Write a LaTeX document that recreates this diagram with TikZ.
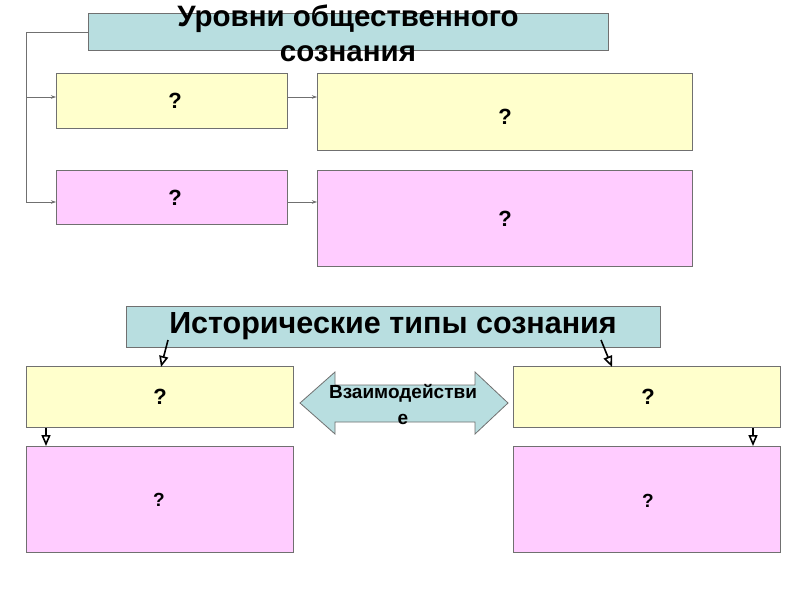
\documentclass[tikz,border=0pt]{standalone}
\usepackage{fontspec}
\setmainfont{Liberation Sans}
\usetikzlibrary{arrows.meta}
\definecolor{bluebox}{HTML}{B8DEE0}
\definecolor{yelbox}{HTML}{FFFFCC}
\definecolor{pinkbox}{HTML}{FFCCFF}
\definecolor{edge}{HTML}{707070}
\tikzset{
  box/.style={draw=edge, line width=1pt, inner sep=0pt, anchor=north west},
  qtext/.style={font=\bfseries\fontsize{22}{22}\selectfont},
  conn/.style={draw=edge, line width=0.8pt, -{Stealth[length=5pt,width=3.5pt,fill=black!70]}},
  oconn/.style={draw=black, line width=1.6pt, -{Triangle[open,length=11pt,width=9pt,fill=white]}},
}
\begin{document}
\begin{tikzpicture}[x=1pt,y=-1pt]
\useasboundingbox[fill=white] (0,0) rectangle (800,600);
% top title
\node[box, fill=bluebox, minimum width=520pt, minimum height=37pt] (t1) at (88,13) {};
\node[font=\bfseries\fontsize{29.5}{35}\selectfont, align=center] (t1txt) at (348,33) {Уровни общественного\\сознания};
% top row boxes
\node[box, fill=yelbox, minimum width=231pt, minimum height=55pt] (y1) at (56,73) {};
\node[box, fill=yelbox, minimum width=375pt, minimum height=77pt] (y2) at (317,73) {};
\node[box, fill=pinkbox, minimum width=231pt, minimum height=54pt] (p1) at (56,170) {};
\node[box, fill=pinkbox, minimum width=375pt, minimum height=96pt] (p2) at (317,170) {};
\node[qtext] (q1) at (175,101) {?};
\node[qtext] (q2) at (505,117) {?};
\node[qtext] (q3) at (175,198) {?};
\node[qtext] (q4) at (505,219) {?};
% left bracket connectors
\coordinate (c0) at (26,32);
\coordinate (c1) at (26,97);
\coordinate (c2) at (26,202);
\draw[draw=edge, line width=0.8pt] (t1.west |- c0) -- (c0) -- (c2);
\draw[conn] (c1) -- (y1.west |- c1);
\draw[conn] (c2) -- (p1.west |- c2);
\draw[conn] (y1.east |- c1) -- (y2.west |- c1);
\draw[conn] (p1.east |- c2) -- (p2.west |- c2);
% bottom title
\node[box, fill=bluebox, minimum width=534pt, minimum height=41pt] (t2) at (126,306) {};
\node[font=\bfseries\fontsize{30.5}{30}\selectfont] (t2txt) at (393,326) {Исторические типы сознания};
% bottom boxes
\node[box, fill=yelbox, minimum width=267pt, minimum height=61pt] (y3) at (26,366) {};
\node[box, fill=yelbox, minimum width=267pt, minimum height=61pt] (y4) at (513,366) {};
\node[box, fill=pinkbox, minimum width=267pt, minimum height=106pt] (p3) at (26,446) {};
\node[box, fill=pinkbox, minimum width=267pt, minimum height=106pt] (p4) at (513,446) {};
\node[qtext] (q5) at (160,397) {?};
\node[qtext] (q6) at (648,397) {?};
\node[qtext, font=\bfseries\fontsize{19}{19}\selectfont] (q7) at (159,500) {?};
\node[qtext, font=\bfseries\fontsize{19}{19}\selectfont] (q8) at (648,501) {?};
% double arrow
\draw[draw=edge, line width=0.8pt, fill=bluebox] (300,403) -- (335,372) -- (335,385) -- (475,385) -- (475,372) -- (508,403) -- (475,434) -- (475,422) -- (335,422) -- (335,434) -- cycle;
\node[font=\bfseries\fontsize{19}{26}\selectfont, align=center] (datxt) at (403,405) {Взаимодействи\\е};
% arrows from title
\coordinate (a1) at (168,340);
\coordinate (a2) at (601,340);
\draw[oconn] (a1) -- (161,367);
\draw[oconn] (a2) -- (612,367);
\draw[oconn] (y3.south -| 46,0) -- (p3.north -| 46,0);
\draw[oconn] (y4.south -| 753,0) -- (p4.north -| 753,0);
\end{tikzpicture}
\end{document}
